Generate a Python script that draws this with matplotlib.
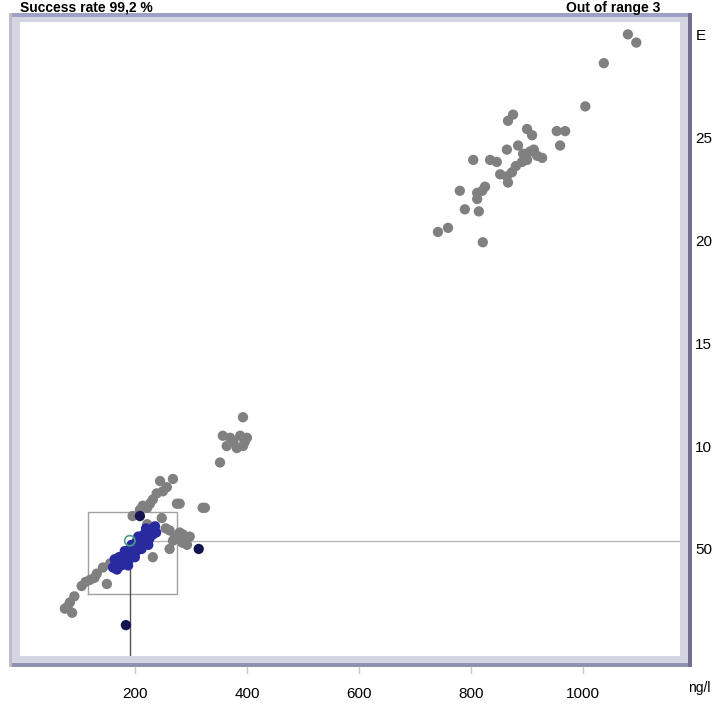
import matplotlib.pyplot as plt
from matplotlib.patches import Rectangle

plt.rcParams['font.family'] = ['Liberation Sans', 'DejaVu Sans']

# gray results (ng/l)
gray_x = [1080, 1095, 1037, 1004, 875, 866, 900, 909, 953, 968, 959, 864, 884,
          893, 905, 918, 927, 891, 900, 804, 834, 846, 852, 864, 873, 866, 780,
          825, 820, 811, 811, 789, 814, 759, 741, 821, 880, 912,
          393, 357, 370, 388, 400, 364, 382, 393, 352, 325, 280, 376, 396,
          268, 245, 257, 239, 232, 227, 214, 209, 275, 321, 196, 250, 222,
          262, 280, 298, 293, 268, 262, 232, 143, 132, 120, 105, 150,
          84, 75, 88, 80, 156, 172, 222, 248, 286, 272, 285, 255, 128, 112, 92]
gray_y = [300, 296, 286, 265, 261, 258, 254, 251, 253, 253, 246, 244, 246,
          242, 243, 241, 240, 238, 239, 239, 239, 238, 232, 231, 233, 228, 224,
          226, 224, 223, 220, 215, 214, 206, 204, 199, 236, 244,
          114, 105, 104, 105, 104, 100, 99, 100, 92, 70, 72, 102, 102,
          84, 83, 80, 77, 74, 72, 71, 69, 72, 70, 66, 78, 70,
          59, 58, 56, 52, 54, 50, 46, 41, 38, 35, 32, 33,
          24, 21, 19, 22, 43, 46, 62, 65, 57, 56, 53, 60, 36, 34, 27]

# blue results
blue_x = [161, 166, 170, 175, 180, 186, 192, 198, 204, 210, 216, 222, 228, 233, 236,
          168, 176, 184, 190, 196, 203, 210, 218, 226, 232, 172, 182, 194, 206, 220,
          188, 200, 212, 224, 178, 238, 164]
blue_y = [41, 43, 44, 46, 47, 49, 50, 52, 54, 55, 57, 58, 59, 60, 61,
          40, 42, 44, 45, 47, 49, 51, 53, 55, 57, 46, 49, 52, 56, 60,
          42, 46, 50, 52, 44, 58, 45]

# dark outliers
dark_x = [209, 314, 184]
dark_y = [66, 50, 13]

target_x, target_y = 191, 54
box_x = [116, 275]
box_y = [28, 68]

x_ticks = [200, 400, 600, 800, 1000]
y_ticks = [50, 100, 150, 200, 250, 300]
y_labels = ['50', '10', '15', '20', '25', 'E']

W, H = 713, 709
fig = plt.figure(figsize=(W / 100, H / 100), dpi=100)
fig.patch.set_facecolor('white')

# background axes in pixel coords for the frame
bg = fig.add_axes([0, 0, 1, 1], zorder=0)
bg.set_xlim(0, W)
bg.set_ylim(H, 0)
bg.axis('off')
bg.add_patch(Rectangle((9, 13), 683, 654, facecolor='#d4d4e2', edgecolor='none'))
bg.add_patch(Rectangle((9, 13), 683, 4, facecolor='#a0a0c4', edgecolor='none'))
bg.add_patch(Rectangle((9, 663), 683, 4, facecolor='#9090b0', edgecolor='none'))
bg.add_patch(Rectangle((688, 13), 4, 654, facecolor='#70708e', edgecolor='none'))
bg.add_patch(Rectangle((9, 13), 3, 654, facecolor='#bcbccc', edgecolor='none'))
for t in [200, 400, 600, 800, 1000]:
    px = 23 + 0.56 * t
    bg.plot([px, px], [667, 673], color='#c8c8d0', lw=1)

ax = fig.add_axes([20 / W, 1 - 656 / H, 660 / W, 634 / H], zorder=1)
ax.set_facecolor('white')
ax.set_xlim(-5, 1173)
ax.set_ylim(-2, 306)
for s in ax.spines.values():
    s.set_visible(False)

ax.plot([box_x[0], box_x[1], box_x[1], box_x[0], box_x[0]],
        [box_y[0], box_y[0], box_y[1], box_y[1], box_y[0]], color='#a0a0a0', lw=1)
ax.plot([target_x, target_x], [-2, target_y], color='#555555', lw=1)
ax.plot([target_x, 1173], [target_y, target_y], color='#b8b8b8', lw=1)

ax.scatter(gray_x, gray_y, s=55, color='#808080', edgecolors='none', zorder=3)
ax.scatter(blue_x, blue_y, s=55, color='#2a2aa0', edgecolors='none', zorder=4)
ax.scatter(dark_x, dark_y, s=55, color='#141450', edgecolors='none', zorder=4)
ax.scatter([target_x], [target_y], s=55, facecolors='none', edgecolors='#4aa080',
           linewidths=1.2, zorder=5)

ax.set_xticks(x_ticks)
ax.set_xticklabels([str(v) for v in x_ticks])
ax.set_yticks(y_ticks)
ax.set_yticklabels(y_labels)
ax.yaxis.tick_right()
ax.tick_params(axis='x', length=0, pad=22, labelsize=11)
ax.tick_params(axis='y', length=0, pad=11, labelsize=11)

fig.text(711 / W, 1 - 688 / H, 'ng/l', fontsize=10, va='center', ha='right')
fig.text(20 / W, 1 - 1 / H, 'Success rate 99,2 %', fontsize=10, fontweight='bold',
         va='top', ha='left')
fig.text(660 / W, 1 - 1 / H, 'Out of range 3', fontsize=10, fontweight='bold',
         va='top', ha='right')

fig.savefig('out.png', dpi=100)
